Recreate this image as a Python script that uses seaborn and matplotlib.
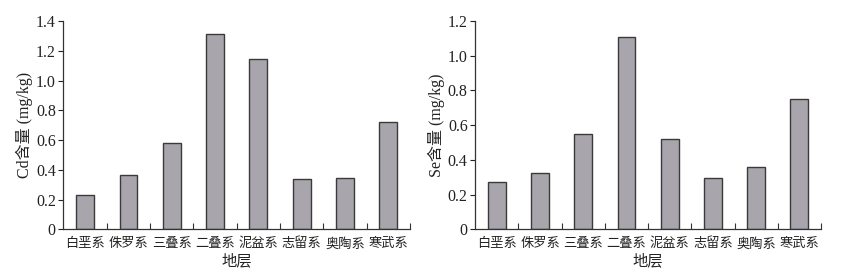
import matplotlib
matplotlib.use("Agg")
import matplotlib.pyplot as plt
from matplotlib.ticker import FixedLocator, MultipleLocator, FuncFormatter
import seaborn as sns
import pandas as pd
import numpy as np

strata = ["白垩系", "侏罗系", "三叠系", "二叠系", "泥盆系", "志留系", "奥陶系", "寒武系"]
cd_values = [0.231, 0.363, 0.578, 1.31, 1.142, 0.338, 0.343, 0.719]
se_values = [0.274, 0.322, 0.549, 1.109, 0.522, 0.294, 0.359, 0.752]

sns.set_theme(style="ticks")
plt.rcParams['font.family'] = ['Liberation Serif', 'Noto Sans CJK SC']
plt.rcParams['axes.unicode_minus'] = False

fig = plt.figure(figsize=(8.46, 2.76), dpi=100)
ax1 = fig.add_axes([0.075, 0.169, 0.4096, 0.755])
ax2 = fig.add_axes([0.5618, 0.169, 0.4086, 0.755])

bar_color = "#a8a6ac"
edge_color = "#3a3a3a"

def fmt(v, pos):
    if abs(v) < 1e-9:
        return "0"
    return f"{v:.1f}"

for ax, vals, ymax, ylabel in [(ax1, cd_values, 1.4, "Cd含量 (mg/kg)"),
                                (ax2, se_values, 1.2, "Se含量 (mg/kg)")]:
    df = pd.DataFrame({"地层": strata, "value": vals})
    sns.barplot(data=df, x="地层", y="value", ax=ax, color=bar_color,
                width=0.41, edgecolor=edge_color, linewidth=1.0, saturation=1)
    ax.set_xlim(-0.5, len(strata) - 0.5)
    ax.set_ylim(0, ymax)
    ax.yaxis.set_major_locator(MultipleLocator(0.2))
    ax.yaxis.set_major_formatter(FuncFormatter(fmt))
    ax.xaxis.set_minor_locator(FixedLocator(np.arange(0.5, len(strata), 1.0)))
    ax.tick_params(axis='x', which='major', length=0, pad=6, labelsize=9.5, colors='#222222')
    ax.tick_params(axis='x', which='minor', direction='in', length=4, width=0.8, color='#333333')
    ax.tick_params(axis='y', which='major', direction='out', length=3.5, width=0.8,
                   labelsize=11.5, colors='#222222', pad=2)
    ax.set_xlabel("地层", fontsize=11, labelpad=2, color='#222222')
    ax.set_ylabel(ylabel, fontsize=11.5, labelpad=2, color='#222222')
    for s in ["top", "right"]:
        ax.spines[s].set_visible(False)
    for s in ["left", "bottom"]:
        ax.spines[s].set_linewidth(0.9)
        ax.spines[s].set_color('#333333')

fig.savefig("out.png", dpi=100, facecolor="white")
